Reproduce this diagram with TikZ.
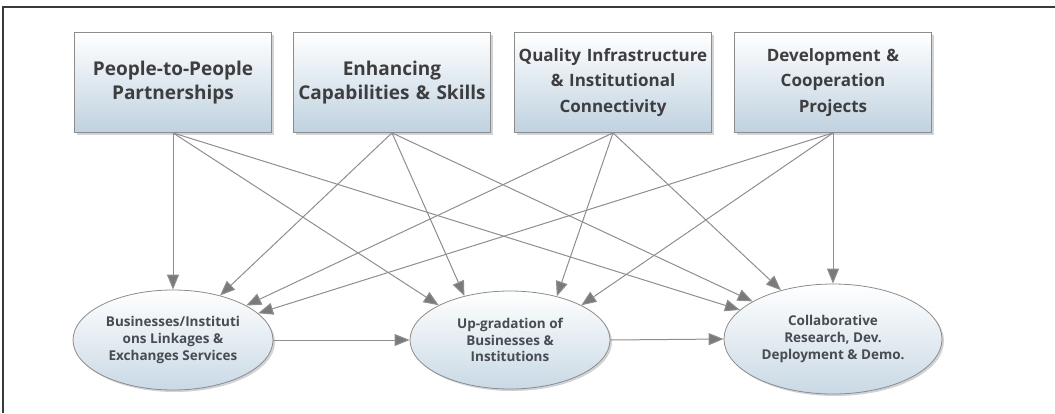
\documentclass[tikz,border=0pt]{standalone}
\usepackage{fontspec}
\setmainfont{Open Sans}
\usetikzlibrary{shapes.geometric,arrows.meta,shadows}
\definecolor{boxbot}{HTML}{BFD2E0}
\definecolor{ellbot}{HTML}{C9D9E5}
\definecolor{edgegray}{HTML}{8E8E8E}
\definecolor{headgray}{HTML}{7A7A7A}
\definecolor{bordergray}{HTML}{8C8C8C}
\definecolor{txtgray}{HTML}{3E3E3E}
\definecolor{elltxt}{HTML}{474C52}
\definecolor{framegray}{HTML}{3A3A3A}
\tikzset{
  topbox/.style={rectangle, draw=bordergray, line width=0.8pt, top color=white, bottom color=boxbot,
    minimum width=197pt, minimum height=100pt, inner sep=0pt, text width=196pt, align=center,
    text=txtgray,
    drop shadow={opacity=0.35, shadow xshift=2pt, shadow yshift=-2pt}},
  bigtext/.style={font=\bfseries\fontsize{19}{24}\selectfont},
  midtext/.style={font=\bfseries\fontsize{17}{25.5}\selectfont},
  outcome/.style={ellipse, draw=bordergray, line width=0.8pt, top color=white, bottom color=ellbot,
    inner sep=0pt, align=center, text=elltxt, font=\bfseries\fontsize{13.5}{16.8}\selectfont,
    drop shadow={opacity=0.35, shadow xshift=2pt, shadow yshift=-2pt}},
  link/.style={draw=edgegray, line width=1pt, -{Triangle[length=15pt,width=12pt,fill=headgray]}},
  frameline/.style={draw=framegray, line width=1.3pt}
}
\begin{document}
\begin{tikzpicture}[x=1pt,y=-1pt]
\useasboundingbox (0,0) rectangle (1055,413);
\coordinate (fa) at (3,413);
\coordinate (fb) at (3,7);
\coordinate (fc) at (1055,7);
\draw[frameline] (fa) -- (fb) -- (fc);

\node[topbox, bigtext] (b1) at (173,82.5) {People-to-People\\Partnerships};
\node[topbox, bigtext] (b2) at (392,82.5) {Enhancing\\Capabilities \& Skills};
\node[topbox, midtext] (b3) at (613,82.5) {Quality Infrastructure\\\& Institutional\\Connectivity};
\node[topbox, midtext] (b4) at (833,82.5) {Development \&\\Cooperation\\Projects};

\node[outcome, minimum width=200pt, minimum height=100pt] (e1) at (173,340) {Businesses/Instituti\\ons Linkages \&\\Exchanges Services};
\node[outcome, minimum width=200pt, minimum height=98pt] (e2) at (510,340) {Up-gradation of\\Businesses \&\\Institutions};
\node[outcome, minimum width=218pt, minimum height=110pt] (e3) at (833,339) {Collaborative\\Research, Dev.\\Deployment \& Demo.};

\draw[link] (b1.south) -- (e1);
\draw[link] (b2.south) -- (e1);
\draw[link] (b3.south) -- (e1);
\draw[link] (b4.south) -- (e1);

\draw[link] (b1.south) -- (e2.154);
\draw[link] (b2.south) -- (e2.136);
\draw[link] (b3.south) -- (e2.43);
\draw[link] (b4.south) -- (e2.26);

\draw[link] (b1.south) -- (e3);
\draw[link] (b2.south) -- (e3);
\draw[link] (b3.south) -- (e3);
\draw[link] (b4.south) -- (e3);

\draw[link] (e1.east) -- (e2.west);
\draw[link] (e2.east) -- (e3.west);
\end{tikzpicture}
\end{document}
